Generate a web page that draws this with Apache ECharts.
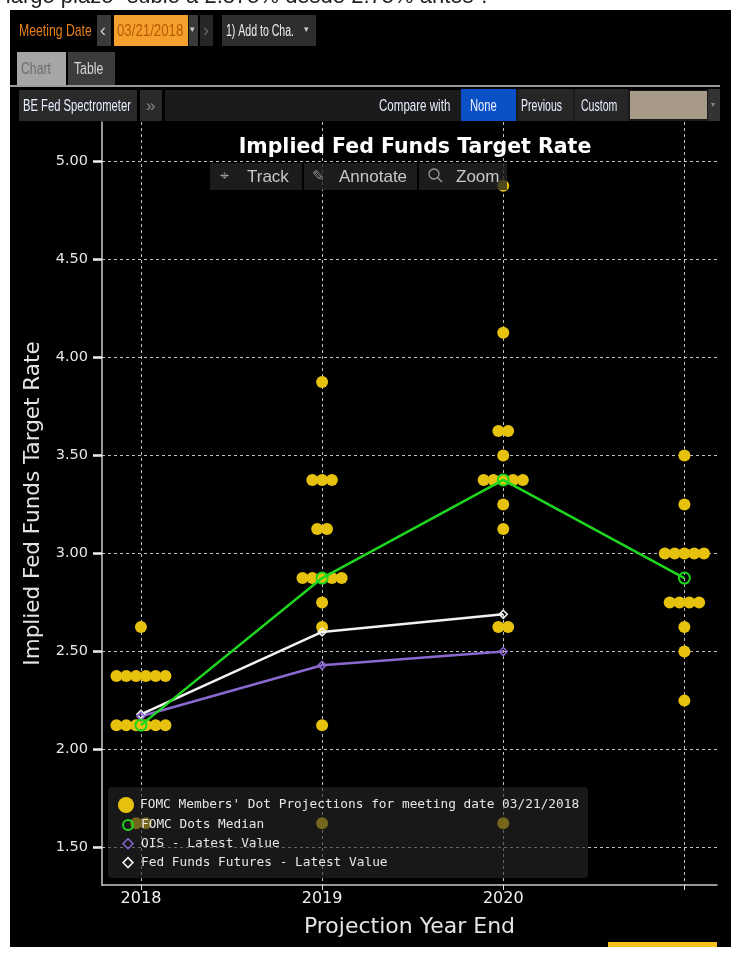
<!DOCTYPE html>
<html>
<head>
<meta charset="utf-8">
<script src="https://cdn.jsdelivr.net/npm/echarts@6/dist/echarts.min.js"></script>
<style>
  html, body { margin: 0; padding: 0; background: #fff; }
  #fedDotChart { width: 731px; height: 958px; }
</style>
</head>
<body>
<div id="fedDotChart"></div>
<script>
// projection columns; the 2021 slot holds the "longer run" dots (no label)
var years = [2018, 2019, 2020, 2021];
var yearTicks = [2018, 2019, 2020, 2021];
var yearLabels = [2018, 2019, 2020];
var rateTicks = [1.5, 2.0, 2.5, 3.0, 3.5, 4.0, 4.5, 5.0];

// FOMC dots per column: [rate, how many members]
var dots2018 = [[2.625, 1], [2.375, 6], [2.125, 6], [1.625, 2]];
var dots2019 = [[3.875, 1], [3.375, 3], [3.125, 2], [2.875, 5], [2.75, 1], [2.625, 1], [2.125, 1], [1.625, 1]];
var dots2020 = [[4.875, 1], [4.125, 1], [3.625, 2], [3.5, 1], [3.375, 5], [3.25, 1], [3.125, 1], [2.625, 2], [1.625, 1]];
var dotsLonger = [[3.5, 1], [3.25, 1], [3.0, 5], [2.75, 4], [2.625, 1], [2.5, 1], [2.25, 1]];

var medianDots = [2.125, 2.875, 3.375, 2.875];
var oisLatest = [2.17, 2.43, 2.50];
var futuresLatest = [2.18, 2.60, 2.69];

var DOT_NAME = "FOMC Members' Dot Projections for meeting date 03/21/2018";
var MEDIAN_NAME = 'FOMC Dots Median';
var OIS_NAME = 'OIS - Latest Value';
var FUT_NAME = 'Fed Funds Futures - Latest Value';

var yellow = '#e6c20e';
var green = '#1fd61f';
var purple = '#8b68d0';
var white = '#f2f2f2';

// rows of equal dots are spread sideways around the column
function buildDots(year, rows) {
  var out = [];
  rows.forEach(function (r) {
    var n = r[1];
    for (var k = 0; k < n; k++) {
      out.push({ value: [year, r[0]], symbolOffset: [(k - (n - 1) / 2) * 9.8, 0] });
    }
  });
  return out;
}
var dotData = [].concat(
  buildDots(years[0], dots2018),
  buildDots(years[1], dots2019),
  buildDots(years[2], dots2020),
  buildDots(years[3], dotsLonger)
);
function pairs(vals) {
  return vals.map(function (v, i) { return [years[i], v]; });
}

// bloomberg window chrome (buttons, tabs) drawn as graphics
var narrow = 'Liberation Sans';
function box(x, y, w, h, fill, z) {
  return { type: 'rect', shape: { x: x, y: y, width: w, height: h }, style: { fill: fill }, z: z || 1, silent: true };
}
function label(x, y, text, color, size, scale, z) {
  return {
    type: 'text', x: x, y: y, scaleX: scale || 0.72, z: z || 2, silent: true,
    style: { text: text, fill: color, font: (size || 17) + 'px "' + narrow + '"', textVerticalAlign: 'middle' }
  };
}
var chrome = [
  // white page margins around the black terminal window
  box(0, 0, 731, 10, '#fff', 0),
  box(0, 0, 10, 958, '#fff', 0),
  box(0, 947, 731, 11, '#fff', 0),
  { type: 'text', x: -2, y: 8, z: 1, silent: true,
    style: { text: '"largo plazo" subió a 2.875% desde 2.75% antes".', fill: '#222', font: '22px "Liberation Sans"', textVerticalAlign: 'bottom' } },
  box(10, 10, 721, 3, '#000', 2),
  // row 1
  label(19, 31, 'Meeting Date', '#e8801c'),
  box(97, 15, 14, 31, '#3a3a3a'),
  label(100, 31, '‹', '#d0d0d0', 18, 1),
  box(114, 15, 74, 31, '#f5a02e'),
  label(117, 31, '03/21/2018', '#b65c00', 17, 0.78),
  box(189, 15, 9, 31, '#3a3a3a'),
  label(190, 30, '▾', '#d0d0d0', 9, 1),
  box(200, 15, 13, 31, '#262626'),
  label(203, 31, '›', '#666', 18, 1),
  box(222, 15, 94, 31, '#2e2e2e'),
  label(226, 31, '1) Add to Cha.', '#f0f0f0', 17, 0.62),
  label(304, 30, '▾', '#d0d0d0', 9, 1),
  // row 2 tabs
  box(17, 52, 49, 34, '#a6a6a6'),
  label(21, 69, 'Chart', '#6c6c6c'),
  box(68, 52, 47, 34, '#3c3c3c'),
  label(74, 69, 'Table', '#d8d8d8'),
  box(10, 85, 710, 2, '#9a9a9a'),
  // row 3
  box(19, 90, 118, 31, '#2a2a2a'),
  label(23, 106, 'BE Fed Spectrometer', '#e8eeff', 17, 0.66),
  box(140, 90, 22, 31, '#2a2a2a'),
  label(146, 106, '»', '#8a8a8a', 17, 1),
  box(165, 90, 555, 31, '#1b1b1b'),
  label(379, 106, 'Compare with', '#e8eeff', 17, 0.68),
  box(461, 89, 55, 32, '#0a50c6'),
  label(470, 106, 'None', '#f0f0ff', 17, 0.66),
  box(518, 89, 55, 32, '#262626'),
  label(521, 106, 'Previous', '#e8eeff', 17, 0.62),
  box(575, 89, 53, 32, '#262626'),
  label(581, 106, 'Custom', '#e8eeff', 17, 0.62),
  box(630, 91, 77, 28, '#a89a88'),
  box(708, 89, 12, 32, '#333'),
  label(711, 105, '▾', '#888', 8, 1),
  // floating toolbar over the plot
  box(210, 163, 92, 27, 'rgba(36,36,36,0.78)', 30),
  label(220, 177, '⌖', '#9a9a9a', 16, 1, 31),
  label(247, 177, 'Track', '#c8c8c8', 17, 1, 31),
  box(304, 163, 113, 27, 'rgba(36,36,36,0.78)', 30),
  label(312, 177, '✎', '#8a8a8a', 15, 1, 31),
  label(339, 177, 'Annotate', '#c8c8c8', 17, 1, 31),
  box(419, 163, 88, 27, 'rgba(36,36,36,0.78)', 30),
  { type: 'circle', shape: { cx: 434, cy: 174, r: 5 }, style: { fill: 'none', stroke: '#9a9a9a', lineWidth: 1.3 }, z: 31, silent: true },
  { type: 'line', shape: { x1: 438, y1: 178, x2: 442, y2: 182 }, style: { stroke: '#9a9a9a', lineWidth: 1.5 }, z: 31, silent: true },
  label(456, 177, 'Zoom', '#c8c8c8', 17, 1, 31),
  // legend backdrop
  { type: 'rect', shape: { x: 108, y: 787, width: 480, height: 91, r: 4 }, style: { fill: 'rgba(40,40,40,0.6)' }, z: 3, silent: true },
  // bottom tab strip
  box(608, 942, 109, 5, '#f5c21a', 1)
];

var chart = echarts.init(document.getElementById('fedDotChart'));
var option = {
  backgroundColor: '#000',
  animation: false,
  graphic: chrome,
  title: {
    text: 'Implied Fed Funds Target Rate',
    left: 410,
    textAlign: 'center',
    top: 132,
    textStyle: { color: '#ffffff', fontSize: 20.5, fontWeight: 'bold', fontFamily: 'DejaVu Sans' }
  },
  grid: { left: 102, right: 14, top: 122, bottom: 73 },
  xAxis: {
    type: 'value',
    min: 2017.785,
    max: 2021.18,
    name: 'Projection Year End',
    nameLocation: 'middle',
    nameGap: 31,
    nameTextStyle: { color: '#e4e4e4', fontSize: 22, fontFamily: 'DejaVu Sans' },
    axisLine: { lineStyle: { color: '#c8c8c8', width: 1.5 } },
    axisTick: { show: true, customValues: yearTicks, length: 5, lineStyle: { color: '#e0e0e0' } },
    axisLabel: {
      customValues: yearLabels, color: '#f0f0f0', fontSize: 16, fontFamily: 'DejaVu Sans', margin: 6,
      formatter: function (v) { return String(v); }
    },
    splitLine: { show: true, lineStyle: { color: '#c0c0c0', type: [3, 3], width: 1 } }
  },
  yAxis: {
    type: 'value',
    min: 1.31,
    max: 5.2,
    name: 'Implied Fed Funds Target Rate',
    nameLocation: 'middle',
    nameGap: 57,
    nameTextStyle: { color: '#e4e4e4', fontSize: 21.5, fontFamily: 'DejaVu Sans' },
    axisLine: { show: true, lineStyle: { color: '#c8c8c8', width: 1.5 } },
    axisTick: { show: true, customValues: rateTicks, length: 9, lineStyle: { color: '#f0f0f0', width: 2.5 } },
    minorTick: { show: true, splitNumber: 2, length: 5, lineStyle: { color: '#e0e0e0' } },
    axisLabel: {
      customValues: rateTicks, color: '#e8e8e8', fontSize: 14.5, fontFamily: 'DejaVu Sans', margin: 14,
      formatter: function (v) { return v.toFixed(2); }
    },
    splitLine: { show: true, lineStyle: { color: '#c0c0c0', type: [3, 3], width: 1 } }
  },
  legend: [
    {
      orient: 'vertical', left: 118, top: 797,
      itemWidth: 16, itemHeight: 16, padding: 0,
      textStyle: { color: '#e6e6e6', fontSize: 12.8, fontFamily: 'DejaVu Sans Mono', padding: [0, 0, 0, 1] },
      data: [{ name: DOT_NAME, icon: 'circle' }]
    },
    {
      orient: 'vertical', left: 122, top: 818,
      itemWidth: 10, itemHeight: 10, itemGap: 4.8, padding: 0,
      textStyle: { color: '#e6e6e6', fontSize: 12.8, fontFamily: 'DejaVu Sans Mono', lineHeight: 14, padding: [0, 0, 0, 3] },
      data: [
        { name: MEDIAN_NAME, icon: 'circle', itemStyle: { color: 'rgba(0,0,0,0)', borderColor: green, borderWidth: 2 } },
        { name: OIS_NAME, icon: 'diamond', itemStyle: { color: 'rgba(0,0,0,0)', borderColor: purple, borderWidth: 1.5 } },
        { name: FUT_NAME, icon: 'diamond', itemStyle: { color: 'rgba(0,0,0,0)', borderColor: white, borderWidth: 1.5 } }
      ]
    }
  ],
  series: [
    {
      name: DOT_NAME,
      type: 'scatter',
      symbol: 'circle',
      symbolSize: 12,
      itemStyle: { color: yellow, opacity: 1 },
      z: 2,
      data: dotData
    },
    {
      name: FUT_NAME,
      type: 'line',
      symbol: 'diamond',
      symbolSize: 8,
      showAllSymbol: true,
      itemStyle: { color: 'rgba(0,0,0,0)', borderColor: white, borderWidth: 1.5 },
      lineStyle: { color: white, width: 2.5 },
      z: 3,
      data: pairs(futuresLatest)
    },
    {
      name: OIS_NAME,
      type: 'line',
      symbol: 'diamond',
      symbolSize: 8,
      itemStyle: { color: 'rgba(0,0,0,0)', borderColor: purple, borderWidth: 1.5 },
      lineStyle: { color: purple, width: 2.5 },
      z: 3,
      data: pairs(oisLatest)
    },
    {
      name: MEDIAN_NAME,
      type: 'line',
      symbol: 'circle',
      symbolSize: 11,
      itemStyle: { color: 'rgba(0,0,0,0)', borderColor: green, borderWidth: 2 },
      lineStyle: { color: green, width: 2.5 },
      z: 3,
      data: pairs(medianDots)
    }
  ]
};
chart.setOption(option);
</script>
</body>
</html>
